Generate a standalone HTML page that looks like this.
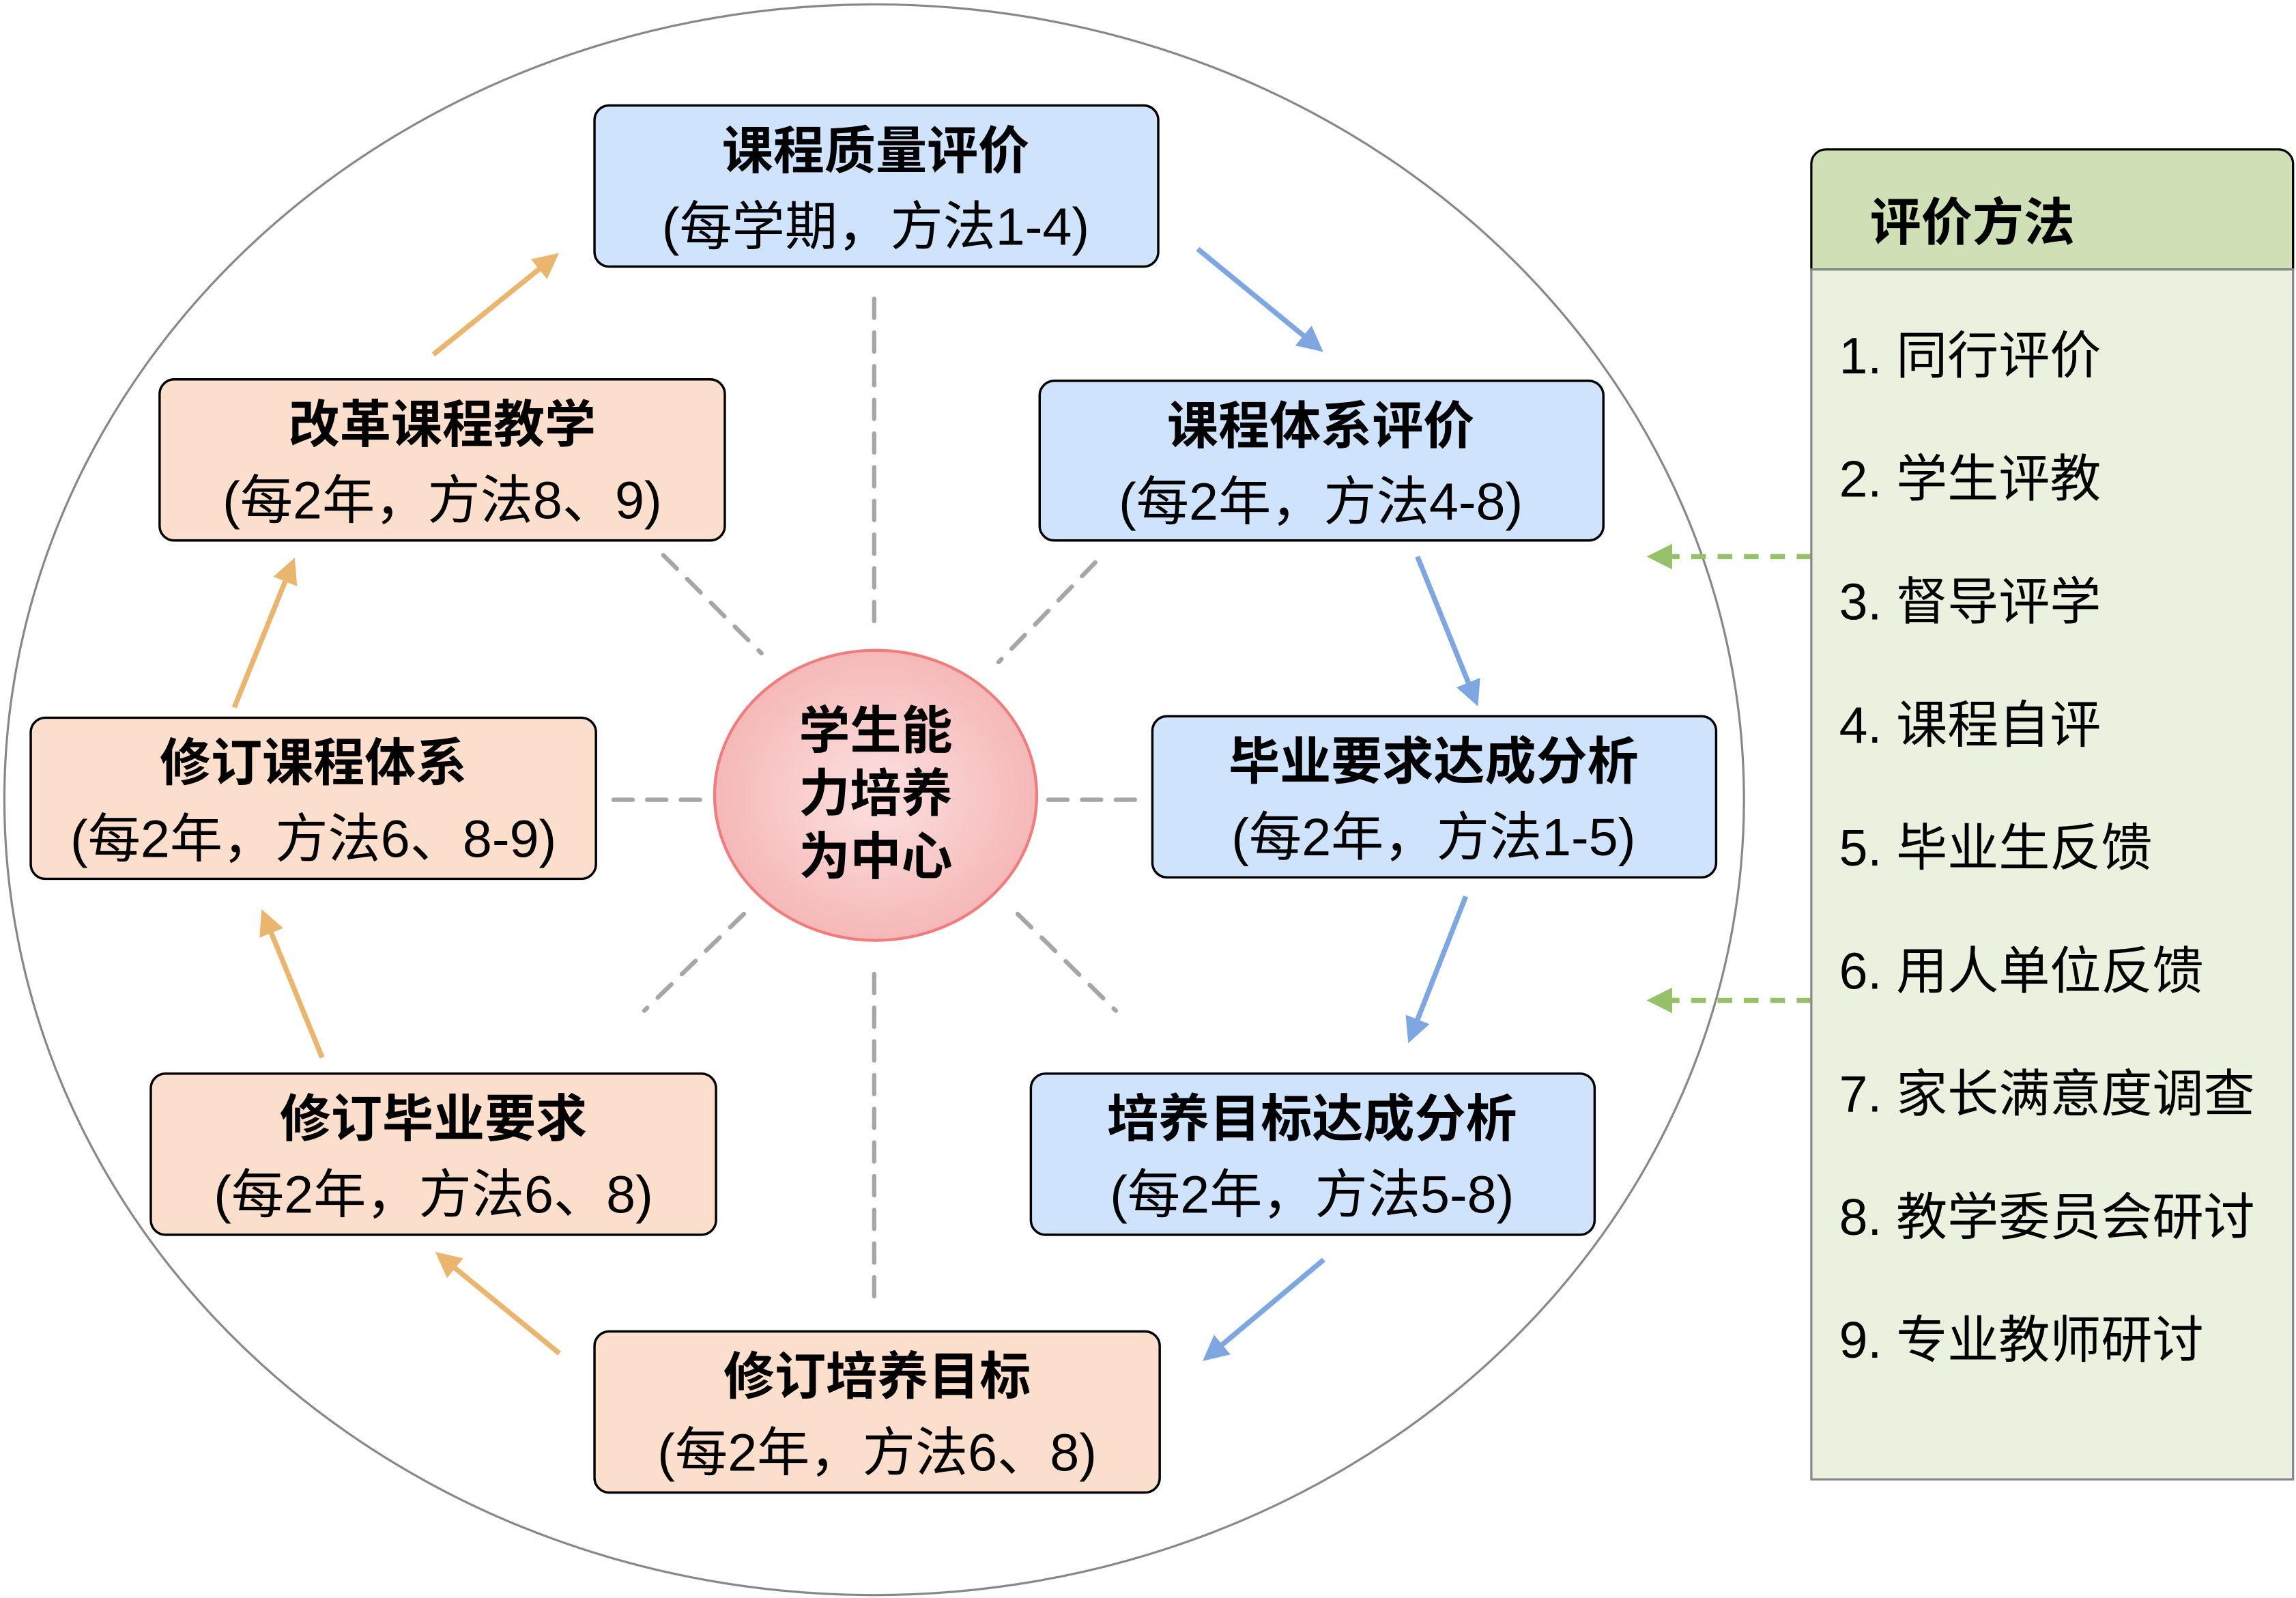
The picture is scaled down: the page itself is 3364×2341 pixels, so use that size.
<!DOCTYPE html>
<html><head><meta charset="utf-8"><style>html,body{margin:0;padding:0;background:#fff}svg{display:block}</style></head><body>
<svg width="3364" height="2341" viewBox="0 0 1568 1091" preserveAspectRatio="none" xmlns="http://www.w3.org/2000/svg" font-family="'Liberation Sans','Noto Sans CJK SC',sans-serif">
<defs>
<marker id="ab" viewBox="0 0 10 10" refX="8" refY="5" markerWidth="5" markerHeight="5" orient="auto"><path d="M0,0L10,5L0,10z" fill="#7ea6e0"/></marker>
<marker id="ao" viewBox="0 0 10 10" refX="8" refY="5" markerWidth="5" markerHeight="5" orient="auto"><path d="M0,0L10,5L0,10z" fill="#eab56f"/></marker>
<marker id="ag" viewBox="0 0 10 10" refX="8" refY="5" markerWidth="5" markerHeight="5" orient="auto"><path d="M0,0L10,5L0,10z" fill="#97c06a"/></marker>
<radialGradient id="rg" cx="50%" cy="50%" r="50%"><stop offset="0" stop-color="#fde0e0"/><stop offset="1" stop-color="#f5b8b8"/></radialGradient>
</defs>
<ellipse cx="597" cy="546" rx="594" ry="543" fill="none" stroke="#888" stroke-width="1.5"/>
<g stroke="#a6a6a6" stroke-width="3" stroke-dasharray="13,10" stroke-linecap="round" fill="none">
<line x1="597" y1="204" x2="597" y2="430"/><line x1="597" y1="665" x2="597" y2="888"/>
<line x1="419" y1="546" x2="487" y2="546"/><line x1="716" y1="546" x2="775" y2="546"/>
<line x1="453" y1="379" x2="520" y2="446"/><line x1="748" y1="384" x2="682" y2="452"/>
<line x1="508" y1="624" x2="440" y2="690"/><line x1="695" y1="624" x2="762" y2="690"/>
</g>
<g stroke="#7ea6e0" stroke-width="3.5" fill="none" marker-end="url(#ab)">
<line x1="818" y1="170" x2="901" y2="238"/><line x1="968" y1="380" x2="1008" y2="479"/>
<line x1="1001" y1="612" x2="963" y2="709"/><line x1="904" y1="860" x2="824" y2="927"/>
</g>
<g stroke="#eab56f" stroke-width="3.5" fill="none" marker-end="url(#ao)">
<line x1="382" y1="924" x2="300" y2="857"/><line x1="220" y1="722" x2="180" y2="624"/>
<line x1="160" y1="483" x2="200" y2="384"/><line x1="296" y1="242" x2="379" y2="175"/>
</g>
<g stroke="#97c06a" stroke-width="3.5" stroke-dasharray="10,8" fill="none" marker-end="url(#ag)">
<line x1="1237" y1="380" x2="1128" y2="380"/><line x1="1237" y1="683" x2="1128" y2="683"/>
</g>
<ellipse cx="598" cy="543" rx="110" ry="99" fill="url(#rg)" stroke="#f07d7d" stroke-width="2"/>
<g font-weight="bold" font-size="35" text-anchor="middle"><text x="598" y="511">学生能</text><text x="598" y="554">力培养</text><text x="598" y="597">为中心</text></g>
<g stroke="#000" stroke-width="1.6">
<rect x="406" y="72" width="385" height="110" rx="10" fill="#cfe3fc"/>
<rect x="710" y="260" width="385" height="109" rx="10" fill="#cfe3fc"/>
<rect x="787" y="489" width="385" height="110" rx="10" fill="#cfe3fc"/>
<rect x="704" y="733" width="385" height="110" rx="10" fill="#cfe3fc"/>
<rect x="406" y="909" width="386" height="110" rx="10" fill="#fbdfcc"/>
<rect x="103" y="733" width="386" height="110" rx="10" fill="#fbdfcc"/>
<rect x="21" y="490" width="386" height="110" rx="10" fill="#fbdfcc"/>
<rect x="109" y="259" width="386" height="110" rx="10" fill="#fbdfcc"/>
</g>
<g text-anchor="middle">
<g font-weight="bold" font-size="35">
<text x="598" y="115">课程质量评价</text><text x="902" y="303">课程体系评价</text>
<text x="979" y="532">毕业要求达成分析</text><text x="896" y="776">培养目标达成分析</text>
<text x="599" y="952">修订培养目标</text><text x="296" y="776">修订毕业要求</text>
<text x="214" y="533">修订课程体系</text><text x="302" y="302">改革课程教学</text>
</g>
<g font-size="36">
<text x="598" y="167">(每学期，方法1-4)</text><text x="902" y="355">(每2年，方法4-8)</text>
<text x="979" y="584">(每2年，方法1-5)</text><text x="896" y="828">(每2年，方法5-8)</text>
<text x="599" y="1004">(每2年，方法6、8)</text><text x="296" y="828">(每2年，方法6、8)</text>
<text x="214" y="585">(每2年，方法6、8-9)</text><text x="302" y="354">(每2年，方法8、9)</text>
</g></g>
<path d="M1237,184V112a10,10 0 0 1 10,-10H1556a10,10 0 0 1 10,10V184z" fill="#d0e0b6" stroke="#000" stroke-width="1.5"/>
<rect x="1237" y="184" width="329" height="826" fill="#eaf1df" stroke="#888" stroke-width="1.5"/>
<text x="1277" y="164" font-weight="bold" font-size="35">评价方法</text>
<g font-size="35">
<text x="1256" y="255">1. 同行评价</text><text x="1256" y="339">2. 学生评教</text>
<text x="1256" y="423">3. 督导评学</text><text x="1256" y="507">4. 课程自评</text>
<text x="1256" y="591">5. 毕业生反馈</text><text x="1256" y="675">6. 用人单位反馈</text>
<text x="1256" y="759">7. 家长满意度调查</text><text x="1256" y="843">8. 教学委员会研讨</text>
<text x="1256" y="927">9. 专业教师研讨</text>
</g>
</svg>
</body></html>
